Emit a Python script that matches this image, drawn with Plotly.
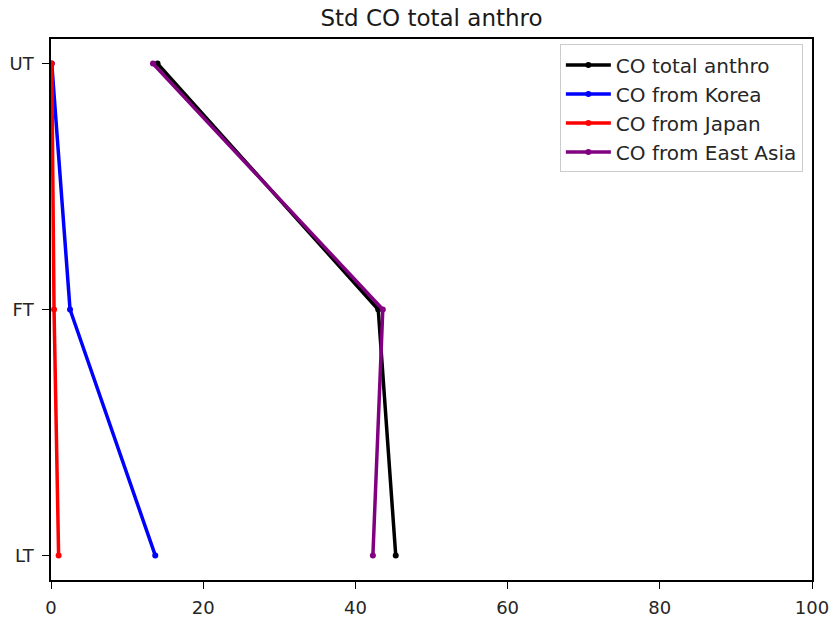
import plotly.graph_objects as go

levels = ["UT", "FT", "LT"]
co_total = [14.0, 43.0, 45.3]
co_korea = [0.1, 2.5, 13.7]
co_japan = [0.1, 0.4, 1.0]
co_east_asia = [13.4, 43.6, 42.3]

series = [
    ("CO total anthro", co_total, "black"),
    ("CO from Korea", co_korea, "blue"),
    ("CO from Japan", co_japan, "red"),
    ("CO from East Asia", co_east_asia, "purple"),
]

fig = go.Figure()
for i, (name, vals, color) in enumerate(series):
    fig.add_trace(go.Scatter(
        x=vals, y=levels, name=name, mode="lines+markers",
        legendgroup=f"g{i}",
        line=dict(color=color, width=3.5),
        marker=dict(color=color, size=6),
    ))

font_family = "DejaVu Sans"
fig.update_layout(
    width=835, height=627,
    margin=dict(l=51, r=23, t=39, b=47),
    paper_bgcolor="white", plot_bgcolor="white",
    font=dict(family=font_family, size=18, color="#262626"),
    title=dict(text="Std CO total anthro", x=(51 + 812) / 2 / 835, xanchor="center",
               y=1 - 18 / 627, yanchor="middle",
               font=dict(size=23, color="#1a1a1a")),
    showlegend=True,
    legend=dict(
        x=0.988, xanchor="right", y=0.99, yanchor="top",
        bgcolor="rgba(255,255,255,0.8)", bordercolor="#cccccc", borderwidth=1,
        font=dict(size=20, color="#262626"),
        tracegroupgap=0, itemwidth=45,
    ),
)
fig.update_xaxes(
    range=[0, 100], tickvals=[0, 20, 40, 60, 80, 100],
    showgrid=False, zeroline=False, automargin=False,
    showline=True, linecolor="black", linewidth=1.5, mirror=True,
    ticks="outside", ticklen=7, tickwidth=1.2, tickcolor="black",
    ticklabelstandoff=4,
    tickfont=dict(size=18, color="#262626"),
)
fig.update_yaxes(
    type="category", categoryorder="array", categoryarray=["LT", "FT", "UT"],
    range=[-0.1, 2.1],
    showgrid=False, zeroline=False, automargin=False,
    showline=True, linecolor="black", linewidth=1.5, mirror=True,
    ticks="outside", ticklen=7, tickwidth=1.2, tickcolor="black",
    ticklabelstandoff=5,
    tickfont=dict(size=18, color="#262626"),
)

fig.write_html("out.html")
